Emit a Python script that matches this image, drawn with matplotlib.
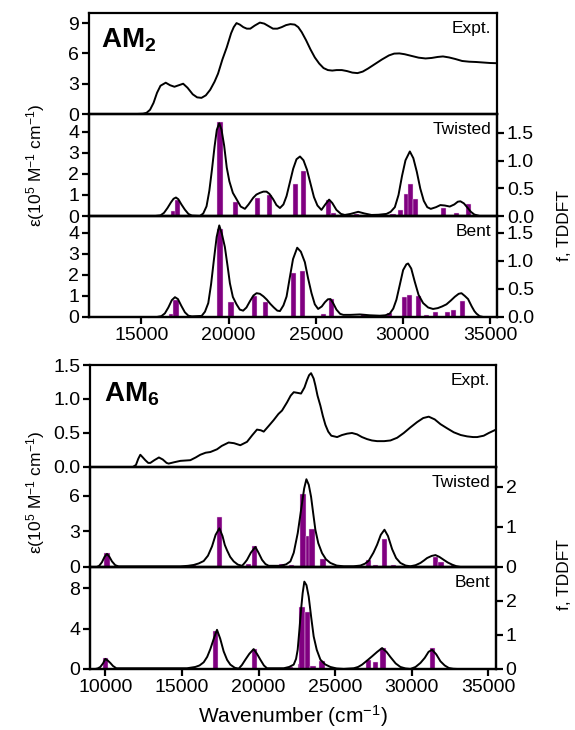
import matplotlib
matplotlib.use('Agg')
from matplotlib import pyplot as plt

plt.rcParams['font.family'] = ['Liberation Sans', 'DejaVu Sans']
plt.rcParams['mathtext.fontset'] = 'custom'
plt.rcParams['mathtext.rm'] = 'Liberation Sans'
plt.rcParams['mathtext.it'] = 'Liberation Sans:italic'
plt.rcParams['mathtext.bf'] = 'Liberation Sans:bold'

# ---- AM2 ----
am2_expt_x = [12000, 14700, 15100, 15300, 15500, 15700, 15900, 16100, 16400, 16650, 16900,
              17150, 17400, 17650, 17950, 18200, 18450, 18700, 18950, 19200, 19400, 19650,
              19900, 20150, 20300, 20460, 20650, 20850, 21050, 21250, 21500, 21800, 22050,
              22300, 22550, 22800, 23050, 23300, 23550, 23800, 24000, 24200, 24450, 24700,
              24950, 25200, 25450, 25700, 25950, 26200, 26500, 26800, 27100, 27400, 27700,
              28000, 28400, 28800, 29200, 29500, 29800, 30100, 30500, 30900, 31300, 31650,
              32000, 32300, 32650, 33000, 33400, 33800, 34200, 34600, 35000, 35400]
am2_expt_y = [0, 0, 0.03, 0.12, 0.42, 1.1, 2.1, 2.8, 3.1, 2.85, 2.7,
              2.85, 3.0, 2.6, 1.95, 1.65, 1.6, 1.85, 2.4, 3.2, 4.0, 5.4,
              6.6, 8.0, 8.6, 9.0, 8.85, 8.6, 8.45, 8.45, 8.75, 9.05, 8.95,
              8.7, 8.45, 8.45, 8.6, 8.8, 8.9, 8.85, 8.6, 8.1, 7.3, 6.4,
              5.6, 5.0, 4.55, 4.35, 4.3, 4.35, 4.35, 4.25, 4.1, 4.05, 4.2,
              4.5, 4.95, 5.4, 5.8, 5.98, 6.0, 5.92, 5.75, 5.58, 5.5, 5.55,
              5.65, 5.7, 5.6, 5.45, 5.25, 5.18, 5.15, 5.1, 5.05, 5.03]

am2_tw_x = [12000, 15800, 16100, 16300, 16500, 16700, 16850, 16985, 17120, 17300, 17500,
            17700, 17900, 18360, 18550, 18740, 18900, 19050, 19200, 19330, 19470, 19600,
            19750, 19900, 20050, 20250, 20460, 20700, 20940, 21150, 21420, 21600, 21800,
            22000, 22180, 22350, 22560, 22750, 22950, 23150, 23330, 23520, 23710, 23900,
            24100, 24300, 24500, 24700, 24900, 25100, 25330, 25550, 25770, 25950, 26190,
            26450, 26670, 27000, 27440, 27800, 28200, 28600, 29060, 29300, 29540, 29750,
            29950, 30150, 30400, 30600, 30800, 31000, 31200, 31400, 31600, 31900, 32150,
            32400, 32690, 32950, 33150, 33300, 33500, 33700, 33900, 34100, 34400, 35400]
am2_tw_y = [0, 0, 0.03, 0.15, 0.38, 0.65, 0.82, 0.88, 0.8, 0.55, 0.3,
            0.1, 0.02, 0, 0.12, 0.46, 1.2, 2.2, 3.3, 4.1, 4.41, 4.1,
            3.35, 2.3, 1.65, 1.1, 0.8, 0.45, 0.34, 0.55, 0.87, 1.02, 1.1,
            1.16, 1.16, 1.05, 0.8, 0.52, 0.38, 0.55, 0.95, 1.6, 2.25, 2.7,
            2.83, 2.65, 2.2, 1.55, 0.9, 0.5, 0.29, 0.55, 0.78, 0.62, 0.29,
            0.1, 0.05, 0.1, 0.2, 0.12, 0.05, 0.06, 0.1, 0.2, 0.42, 1.0,
            1.9, 2.65, 3.07, 2.75, 2.1, 1.3, 0.72, 0.42, 0.34, 0.42, 0.52,
            0.5, 0.45, 0.55, 0.68, 0.7, 0.6, 0.4, 0.2, 0.07, 0, 0]
am2_tw_fx = [16830, 17060, 19510, 20420, 21650, 22370, 23830, 24320, 25740, 26040,
             27340, 28490, 29440, 29860, 30210, 30440, 30740, 32310, 33070, 33760]
am2_tw_f = [0.09, 0.29, 1.69, 0.26, 0.33, 0.375, 0.58, 0.81, 0.28, 0.05,
            0.04, 0.02, 0.04, 0.11, 0.39, 0.58, 0.3, 0.14, 0.05, 0.22]

am2_bt_x = [12000, 15900, 16150, 16350, 16550, 16750, 16930, 17100, 17300, 17500, 17700,
            17900, 18460, 18650, 18840, 19000, 19160, 19320, 19470, 19620, 19790, 19950,
            20080, 20250, 20460, 20650, 20840, 21030, 21230, 21430, 21610, 21800, 22000,
            22200, 22400, 22600, 22800, 22950, 23150, 23330, 23500, 23700, 23940, 24150,
            24380, 24560, 24760, 24950, 25140, 25350, 25530, 25700, 25850, 26000, 26190,
            26400, 26580, 27000, 27530, 28100, 28680, 29000, 29250, 29450, 29630, 29830,
            30015, 30200, 30300, 30480, 30680, 30900, 31160, 31450, 31730, 32000, 32250,
            32500, 32750, 32980, 33200, 33360, 33550, 33740, 33950, 34100, 34220, 34400,
            34600, 35400]
am2_bt_y = [0, 0, 0.04, 0.17, 0.45, 0.8, 0.94, 0.85, 0.52, 0.22, 0.06,
            0.03, 0.05, 0.25, 0.66, 1.55, 2.7, 3.8, 4.35, 3.95, 3.33, 2.4,
            1.6, 0.95, 0.6, 0.35, 0.3, 0.45, 0.75, 1.02, 1.13, 1.1, 0.98,
            0.82, 0.62, 0.45, 0.3, 0.28, 0.55, 0.97, 1.8, 2.75, 3.29, 3.1,
            2.6, 1.85, 1.13, 0.6, 0.38, 0.5, 0.7, 0.84, 0.85, 0.66, 0.35,
            0.15, 0.1, 0.1, 0.12, 0.08, 0.06, 0.08, 0.16, 0.4, 0.82, 1.55,
            2.23, 2.5, 2.54, 2.3, 1.68, 1.05, 0.66, 0.45, 0.38, 0.42, 0.5,
            0.6, 0.78, 0.96, 1.1, 1.13, 1.0, 0.85, 0.5, 0.28, 0.16, 0.04,
            0, 0]
am2_bt_fx = [16760, 16985, 19510, 20140, 21510, 22140, 23710, 24230, 25430, 25910,
             27720, 29250, 30110, 30360, 30880, 31350, 31890, 32560, 32920, 33420]
am2_bt_f = [0.06, 0.31, 1.57, 0.26, 0.38, 0.26, 0.79, 0.82, 0.06, 0.32,
            0.05, 0.07, 0.36, 0.39, 0.38, 0.04, 0.09, 0.08, 0.12, 0.28]

# ---- AM6 ----
am6_expt_x = [9000, 11800, 12000, 12150, 12285, 12450, 12610, 12800, 12940, 13200, 13500,
              13750, 14000, 14135, 14500, 14900, 15550, 15900, 16200, 16550, 16855, 17290,
              17600, 18050, 18400, 18810, 19250, 19600, 19900, 20150, 20340, 20650, 20990,
              21300, 21535, 21860, 22100, 22300, 22550, 22775, 23000, 23170, 23300, 23430,
              23600, 23710, 23850, 24040, 24200, 24365, 24550, 24750, 25130, 25450, 25780,
              26100, 26430, 26750, 27085, 27400, 27740, 28200, 28610, 29050, 29480, 29900,
              30350, 30750, 31110, 31500, 31875, 32300, 32745, 33200, 33615, 34000, 34270,
              34700, 35030, 35500]
am6_expt_y = [0, 0, 0.03, 0.12, 0.18, 0.14, 0.1, 0.06, 0.06, 0.1, 0.14,
              0.11, 0.06, 0.05, 0.07, 0.09, 0.1, 0.14, 0.18, 0.21, 0.22, 0.26,
              0.31, 0.36, 0.35, 0.32, 0.37, 0.47, 0.55, 0.54, 0.52, 0.6, 0.69,
              0.78, 0.83, 0.95, 1.05, 1.1, 1.09, 1.08, 1.17, 1.28, 1.35, 1.38,
              1.3, 1.2, 1.05, 0.9, 0.75, 0.62, 0.52, 0.46, 0.44, 0.47, 0.49,
              0.5, 0.48, 0.44, 0.41, 0.39, 0.38, 0.38, 0.39, 0.43, 0.5, 0.58,
              0.66, 0.72, 0.74, 0.7, 0.63, 0.57, 0.51, 0.47, 0.45, 0.44, 0.44,
              0.46, 0.5, 0.55]

am6_tw_x = [9000, 9450, 9600, 9780, 9950, 10110, 10270, 10435, 10650, 10870, 14900,
            15400, 15770, 16100, 16420, 16700, 16965, 17200, 17445, 17650, 17800, 17945,
            18150, 18380, 18650, 18925, 19100, 19250, 19500, 19795, 20000, 20230, 20450,
            20665, 21425, 21800, 22080, 22300, 22560, 22700, 22840, 22980, 23125, 23280,
            23430, 23570, 23710, 23900, 24145, 24400, 24690, 25100, 25560, 26200, 26650,
            26950, 27195, 27500, 27740, 27980, 28220, 28450, 28720, 28980, 29260, 29600,
            29915, 30250, 30570, 30800, 31000, 31300, 31550, 31800, 32090, 32350, 32635,
            32900, 33180, 35500]
am6_tw_y = [0, 0, 0.1, 0.4, 0.85, 1.1, 0.85, 0.47, 0.15, 0.05, 0.05,
            0.1, 0.17, 0.3, 0.5, 0.95, 1.73, 2.7, 3.25, 2.6, 1.85, 1.4,
            0.85, 0.47, 0.2, 0.1, 0.35, 0.6, 1.2, 1.68, 1.2, 0.6, 0.25,
            0.1, 0.1, 0.22, 0.47, 1.2, 2.85, 4.1, 5.36, 6.6, 7.37, 6.9,
            5.9, 4.5, 3.13, 2.0, 1.17, 0.65, 0.34, 0.12, 0.06, 0.06, 0.12,
            0.28, 0.53, 1.2, 1.87, 2.7, 3.13, 2.6, 1.5, 0.75, 0.34, 0.12,
            0.06, 0.15, 0.34, 0.55, 0.75, 0.93, 1.0, 0.85, 0.6, 0.38, 0.2,
            0.07, 0, 0]
am6_tw_fx = [10110, 15770, 17445, 19360, 19750, 21535, 22145, 22905, 23275, 23495,
             24210, 24910, 27195, 27630, 28220, 28785, 29260, 31550, 31915, 32745]
am6_tw_f = [0.35, 0.05, 1.26, 0.08, 0.53, 0.07, 0.06, 1.82, 0.78, 0.96,
            0.21, 0.03, 0.17, 0.06, 0.7, 0.05, 0.03, 0.25, 0.13, 0.05]

am6_bt_x = [9000, 9350, 9500, 9675, 9850, 10000, 10150, 10325, 10500, 10720, 15330,
            15875, 16150, 16420, 16650, 16855, 17080, 17290, 17500, 17725, 17950, 18160,
            18450, 18705, 18920, 19140, 19400, 19685, 19900, 20120, 20350, 20555, 21645,
            22000, 22295, 22450, 22555, 22665, 22775, 22880, 22990, 23130, 23275, 23440,
            23600, 23800, 24040, 24350, 24690, 25100, 25560, 26215, 26500, 26760, 27100,
            27410, 27750, 28065, 28350, 28610, 28950, 29260, 29600, 29915, 30250, 30570,
            30850, 31100, 31330, 31600, 31875, 32150, 32420, 32700, 32960, 35500]
am6_bt_y = [0, 0, 0.05, 0.2, 0.55, 1.0, 0.85, 0.6, 0.3, 0.07, 0.07,
            0.2, 0.35, 0.66, 1.2, 1.97, 3.0, 3.88, 3.0, 1.74, 0.9, 0.43,
            0.12, 0.03, 0.4, 0.92, 1.5, 1.97, 1.5, 0.92, 0.35, 0.07, 0.07,
            0.2, 0.43, 1.0, 1.9, 3.8, 5.86, 7.5, 8.65, 8.3, 7.17, 5.1,
            3.22, 1.9, 0.92, 0.45, 0.2, 0.05, 0, 0.07, 0.2, 0.43, 0.85,
            1.25, 1.7, 2.07, 1.7, 1.18, 0.55, 0.2, 0.05, 0, 0.2, 0.6,
            1.1, 1.7, 1.9, 1.45, 0.76, 0.35, 0.1, 0.02, 0, 0]
am6_bt_fx = [10000, 15770, 17180, 19250, 19730, 21535, 22080, 22730, 22840, 23210,
             23560, 24145, 27195, 27630, 28130, 28825, 31330]
am6_bt_f = [0.32, 0.03, 1.13, 0.02, 0.59, 0.02, 0.06, 0.16, 1.83, 1.68,
            0.08, 0.22, 0.25, 0.21, 0.61, 0.02, 0.61]

purple = '#800080'
lw_spine = 1.6
tick_fs = 14

fig = plt.figure(figsize=(5.75, 7.3), dpi=100)


def style(ax, xlim, xticks, show_x):
    for s in ax.spines.values():
        s.set_linewidth(lw_spine)
    ax.set_xlim(*xlim)
    ax.set_xticks(xticks)
    ax.tick_params(direction='out', width=lw_spine, length=5, labelsize=tick_fs, pad=2)
    if not show_x:
        ax.tick_params(axis='x', bottom=False, labelbottom=False)


def panel(rect, xlim, xticks, x, y, ylim, yticks, label, show_x=False,
          fx=None, f=None, flim=None, fticks=None, fticklabels=None, bw=300):
    ax = fig.add_axes(rect)
    ax.plot(x, y, color='black', lw=1.4, zorder=3)
    ax.set_ylim(*ylim)
    ax.set_yticks(yticks)
    style(ax, xlim, xticks, show_x)
    ax.text(0.985, 0.92, label, transform=ax.transAxes, ha='right', va='top', fontsize=12.5)
    if fx is not None:
        tw = ax.twinx()
        tw.bar(fx, f, width=bw, color=purple, edgecolor='#f0d8f0', linewidth=0.3)
        tw.set_ylim(*flim)
        tw.set_yticks(fticks)
        tw.set_yticklabels(fticklabels)
        style(tw, xlim, xticks, show_x)
        ax.set_zorder(tw.get_zorder() + 1)
        ax.patch.set_visible(False)
    return ax


lim2 = (12000, 35400)
tk2 = [15000, 20000, 25000, 30000, 35000]
L2, W2 = 0.1548, 0.7096
a = panel([L2, 0.8438, W2, 0.1384], lim2, tk2, am2_expt_x, am2_expt_y, (0, 10), [0, 3, 6, 9], 'Expt.')
a.text(0.03, 0.66, r'$\mathbf{AM_2}$', transform=a.transAxes, fontsize=20, va='baseline')
panel([L2, 0.7041, W2, 0.1397], lim2, tk2, am2_tw_x, am2_tw_y, (0, 4.85), [0, 1, 2, 3, 4], 'Twisted',
      fx=am2_tw_fx, f=am2_tw_f, flim=(0, 1.84), fticks=[0, 0.5, 1.0, 1.5],
      fticklabels=['0.0', '0.5', '1.0', '1.5'])
panel([L2, 0.5658, W2, 0.1384], lim2, tk2, am2_bt_x, am2_bt_y, (0, 4.8), [0, 1, 2, 3, 4], 'Bent', show_x=True,
      fx=am2_bt_fx, f=am2_bt_f, flim=(0, 1.8), fticks=[0, 0.5, 1.0, 1.5],
      fticklabels=['0.0', '0.5', '1.0', '1.5'])

lim6 = (9000, 35500)
tk6 = [10000, 15000, 20000, 25000, 30000, 35000]
L6, W6 = 0.1565, 0.7061
b = panel([L6, 0.3603, W6, 0.1397], lim6, tk6, am6_expt_x, am6_expt_y, (0, 1.5), [0, 0.5, 1.0, 1.5], 'Expt.')
b.set_yticklabels(['0.0', '0.5', '1.0', '1.5'])
b.text(0.035, 0.64, r'$\mathbf{AM_6}$', transform=b.transAxes, fontsize=20, va='baseline')
panel([L6, 0.2233, W6, 0.137], lim6, tk6, am6_tw_x, am6_tw_y, (0, 8.4), [0, 3, 6], 'Twisted',
      fx=am6_tw_fx, f=am6_tw_f, flim=(0, 2.5), fticks=[0, 1, 2], fticklabels=['0', '1', '2'], bw=340)
bb = panel([L6, 0.0836, W6, 0.1397], lim6, tk6, am6_bt_x, am6_bt_y, (0, 10.1), [0, 4, 8], 'Bent', show_x=True,
           fx=am6_bt_fx, f=am6_bt_f, flim=(0, 3.0), fticks=[0, 1, 2], fticklabels=['0', '1', '2'], bw=340)
bb.set_xlabel('Wavenumber (cm$^{-1}$)', fontsize=15, labelpad=5)

eps = '\u03b5(10$^{5}$ M$^{-1}$ cm$^{-1}$)'
fig.text(0.062, 1 - 165 / 730, eps, rotation=90, ha='center', va='center', fontsize=12.5)
fig.text(0.062, 1 - 492 / 730, eps, rotation=90, ha='center', va='center', fontsize=12.5)
fig.text(0.982, 1 - 226 / 730, 'f, TDDFT', rotation=90, ha='center', va='center', fontsize=12.5)
fig.text(0.982, 1 - 575 / 730, 'f, TDDFT', rotation=90, ha='center', va='center', fontsize=12.5)

fig.savefig('out.png', dpi=100)
